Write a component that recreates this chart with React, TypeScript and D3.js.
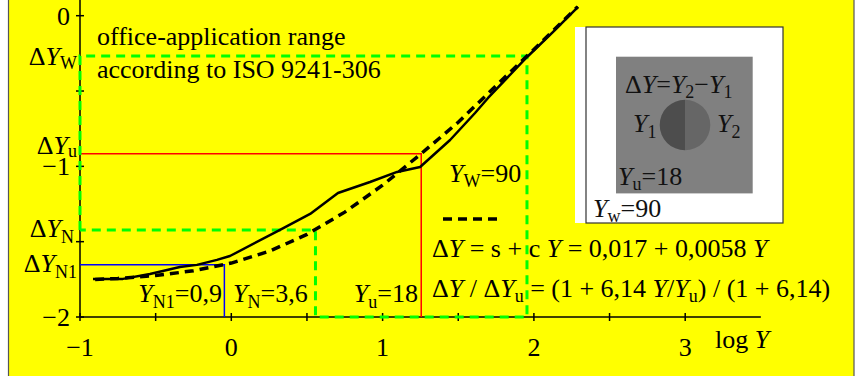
import * as d3 from 'd3';

// solid curve: measured threshold data (log Y, log ΔY)
const solidLogY = [-0.914, -0.716, -0.538, -0.34, -0.227, -0.095, -0.009, 0.322, 0.521, 0.705, 0.917, 1.096, 1.248, 1.446, 1.611, 1.697, 1.955, 2.127, 2.292];
const solidLogDY = [-1.747, -1.747, -1.714, -1.668, -1.654, -1.621, -1.595, -1.422, -1.316, -1.177, -1.104, -1.037, -1.004, -0.825, -0.646, -0.546, -0.274, -0.108, 0.058];

// dashed curve: model ΔY = s + c Y, read at quarter steps of log Y
const dashLogY = [-0.9, -0.75, -0.5, -0.25, 0, 0.25, 0.5, 0.75, 1.0, 1.25, 1.5, 1.75, 2.0, 2.29];
const dashLogDY = [-1.751, -1.744, -1.725, -1.693, -1.642, -1.564, -1.452, -1.304, -1.125, -0.92, -0.707, -0.465, -0.224, 0.06];

// reference luminances Y and their ΔY (log)
const refNames = ['N1', 'N', 'u', 'W'];
const refY = [0.9, 3.6, 18, 90];
const refLogDY = [-1.653, -1.422, -0.916, -0.268];

const xTicks = [-1, -0.5, 0, 0.5, 1, 1.5, 2, 2.5, 3];
const xTickLabels = ['−1', '0', '1', '2', '3'];
const yTicks = [0, -0.5, -1, -1.5, -2];
const yTickLabels = ['0', '−1', '−2'];

const FONT = "'Liberation Serif', 'Times New Roman', serif";
const FS = 26;

// segment: [text, kind] where kind '' = roman, 'i' = italic, 's' = subscript
type Seg = [string, string?];

function Rich({ x, y, segs, anchor, fill = '#000', drop = 5 }:
  { x: number; y: number; segs: Seg[]; anchor?: string; fill?: string; drop?: number }) {
  let cur = 0;
  return (
    <text x={x} y={y} textAnchor={anchor} style={{ fontFamily: FONT, fontSize: FS, fill }}>
      {segs.map(([t, k], i) => {
        const target = k === 's' ? drop : 0;
        const d = target - cur;
        cur = target;
        return (
          <tspan key={i} dy={d || undefined}
            style={{ fontSize: k === 's' ? 18 : FS, fontStyle: k === 'i' ? 'italic' : 'normal' }}>
            {t}
          </tspan>
        );
      })}
    </text>
  );
}

export default function App() {
  const x = d3.scaleLinear().domain([-1, 3]).range([80, 685.2]);
  const y = d3.scaleLinear().domain([0, -2]).range([15.7, 317]);

  const line = d3.line<[number, number]>()
    .x(d => x(d[0]))
    .y(d => y(d[1]));

  const solid = solidLogY.map((v, i) => [v, solidLogDY[i]] as [number, number]);
  const dashed = dashLogY.map((v, i) => [v, dashLogDY[i]] as [number, number]);

  const lg = (name: string) => Math.log10(refY[refNames.indexOf(name)]);
  const dy = (name: string) => refLogDY[refNames.indexOf(name)];

  const x0 = x(-1);
  const yBase = y(-2);

  // office-application range outline
  const green: [number, number][] = [
    [-1, dy('N')], [-1, dy('W')], [lg('W'), dy('W')], [lg('W'), -2],
    [lg('N'), -2], [lg('N'), dy('N')], [-1, dy('N')],
  ];

  const ts = { fontFamily: FONT, fontSize: FS, fill: '#000' };

  return (
    <svg width={857} height={376} style={{ position: 'absolute', left: 0, top: 0 }}>
      <rect x={8.5} y={-5} width={845.5} height={390} fill="#ffff00" stroke="#555" strokeWidth={1.2} />

      {/* axes */}
      <line x1={x0} x2={x0} y1={0} y2={yBase} stroke="#000" strokeWidth={1.5} />
      <line x1={x0} x2={x(3.5)} y1={yBase} y2={yBase} stroke="#000" strokeWidth={1.5} />
      {xTicks.map(t => (
        <line key={'xt' + t} x1={x(t)} x2={x(t)} y1={yBase - 4} y2={yBase + 4} stroke="#000" strokeWidth={1.5} />
      ))}
      {yTicks.map(t => (
        <line key={'yt' + t} x1={x0 - 4} x2={x0 + 4} y1={y(t)} y2={y(t)} stroke="#000" strokeWidth={1.5} />
      ))}
      {xTickLabels.map((l, i) => (
        <text key={'xl' + l} x={x(i - 1)} y={356} textAnchor="middle" style={ts}>{l}</text>
      ))}
      {yTickLabels.map((l, i) => (
        <text key={'yl' + l} x={70} y={y(-i) + 9} textAnchor="end" style={ts}>{l}</text>
      ))}
      <Rich x={715} y={348} segs={[['log '], ['Y', 'i']]} />

      {/* reference lines */}
      <path d={`M${x0},${y(dy('N1'))}H${x(lg('N1'))}V${yBase}`} fill="none" stroke="#0000ff" strokeWidth={1.5} />
      <path d={`M${x0},${y(dy('u'))}H${x(lg('u'))}V${yBase}`} fill="none" stroke="#ff0000" strokeWidth={1.5} />
      <path d={line(green) ?? ''} fill="none" stroke="#00ff00" strokeWidth={3} strokeDasharray="9,6" />

      {/* curves */}
      <path d={line(solid) ?? ''} fill="none" stroke="#000" strokeWidth={2.5} strokeLinejoin="round" />
      <path d={line(dashed) ?? ''} fill="none" stroke="#000" strokeWidth={3.5} strokeDasharray="9,6" />

      {/* y reference labels */}
      <Rich x={77} y={y(dy('W')) + 9} anchor="end" drop={4} segs={[['Δ'], ['Y', 'i'], ['W', 's']]} />
      <Rich x={77} y={y(dy('u'))} anchor="end" drop={3} segs={[['Δ'], ['Y', 'i'], ['u', 's']]} />
      <Rich x={74} y={y(dy('N')) + 7} anchor="end" drop={6} segs={[['Δ'], ['Y', 'i'], ['N', 's']]} />
      <Rich x={77} y={y(dy('N1')) + 7} anchor="end" drop={6} segs={[['Δ'], ['Y', 'i'], ['N1', 's']]} />

      <text x={97} y={45} style={ts}>office-application range</text>
      <text x={97} y={78} style={ts}>according to ISO 9241-306</text>

      {/* x reference labels */}
      <Rich x={222} y={302} anchor="end" drop={6} segs={[['Y', 'i'], ['N1', 's'], ['=0,9']]} />
      <Rich x={233} y={302} drop={6} segs={[['Y', 'i'], ['N', 's'], ['=3,6']]} />
      <Rich x={418} y={302} anchor="end" drop={6} segs={[['Y', 'i'], ['u', 's'], ['=18']]} />
      <Rich x={449} y={182} segs={[['Y', 'i'], ['W', 's'], ['=90']]} />

      {/* legend and formulas */}
      <line x1={443} x2={498} y1={219} y2={219} stroke="#000" strokeWidth={3.5} strokeDasharray="9,6" />
      <Rich x={432} y={257} segs={[['Δ'], ['Y', 'i'], [' = s + c '], ['Y', 'i'], [' = 0,017 + 0,0058 '], ['Y', 'i']]} />
      <Rich x={432} y={297} segs={[
        ['Δ'], ['Y', 'i'], [' / Δ'], ['Y', 'i'], ['u', 's'], [' = (1 + 6,14 '],
        ['Y', 'i'], ['/'], ['Y', 'i'], ['u', 's'], [') / (1 + 6,14)'],
      ]} />

      {/* inset */}
      <rect x={575} y={27} width={208} height={196} fill="#fff" />
      <rect x={586} y={27} width={197} height={196} fill="#fff" stroke="#333" strokeWidth={1.2} />
      <rect x={616} y={56.7} width={136.7} height={136.7} fill="#808080" />
      <path d={`M685,${125 - 25.3}A25.3,25.3 0 0 0 685,${125 + 25.3}Z`} fill="#4d4d4d" />
      <path d={`M685,${125 - 25.3}A25.3,25.3 0 0 1 685,${125 + 25.3}Z`} fill="#666" />
      <Rich x={625} y={93} fill="#111" segs={[['Δ'], ['Y', 'i'], ['='], ['Y', 'i'], ['2', 's'], ['−'], ['Y', 'i'], ['1', 's']]} />
      <Rich x={633} y={132} fill="#111" drop={6} segs={[['Y', 'i'], ['1', 's']]} />
      <Rich x={717} y={132} fill="#111" drop={6} segs={[['Y', 'i'], ['2', 's']]} />
      <Rich x={618} y={185} fill="#111" segs={[['Y', 'i'], ['u', 's'], ['=18']]} />
      <Rich x={593} y={217} fill="#111" segs={[['Y', 'i'], ['w', 's'], ['=90']]} />
    </svg>
  );
}
